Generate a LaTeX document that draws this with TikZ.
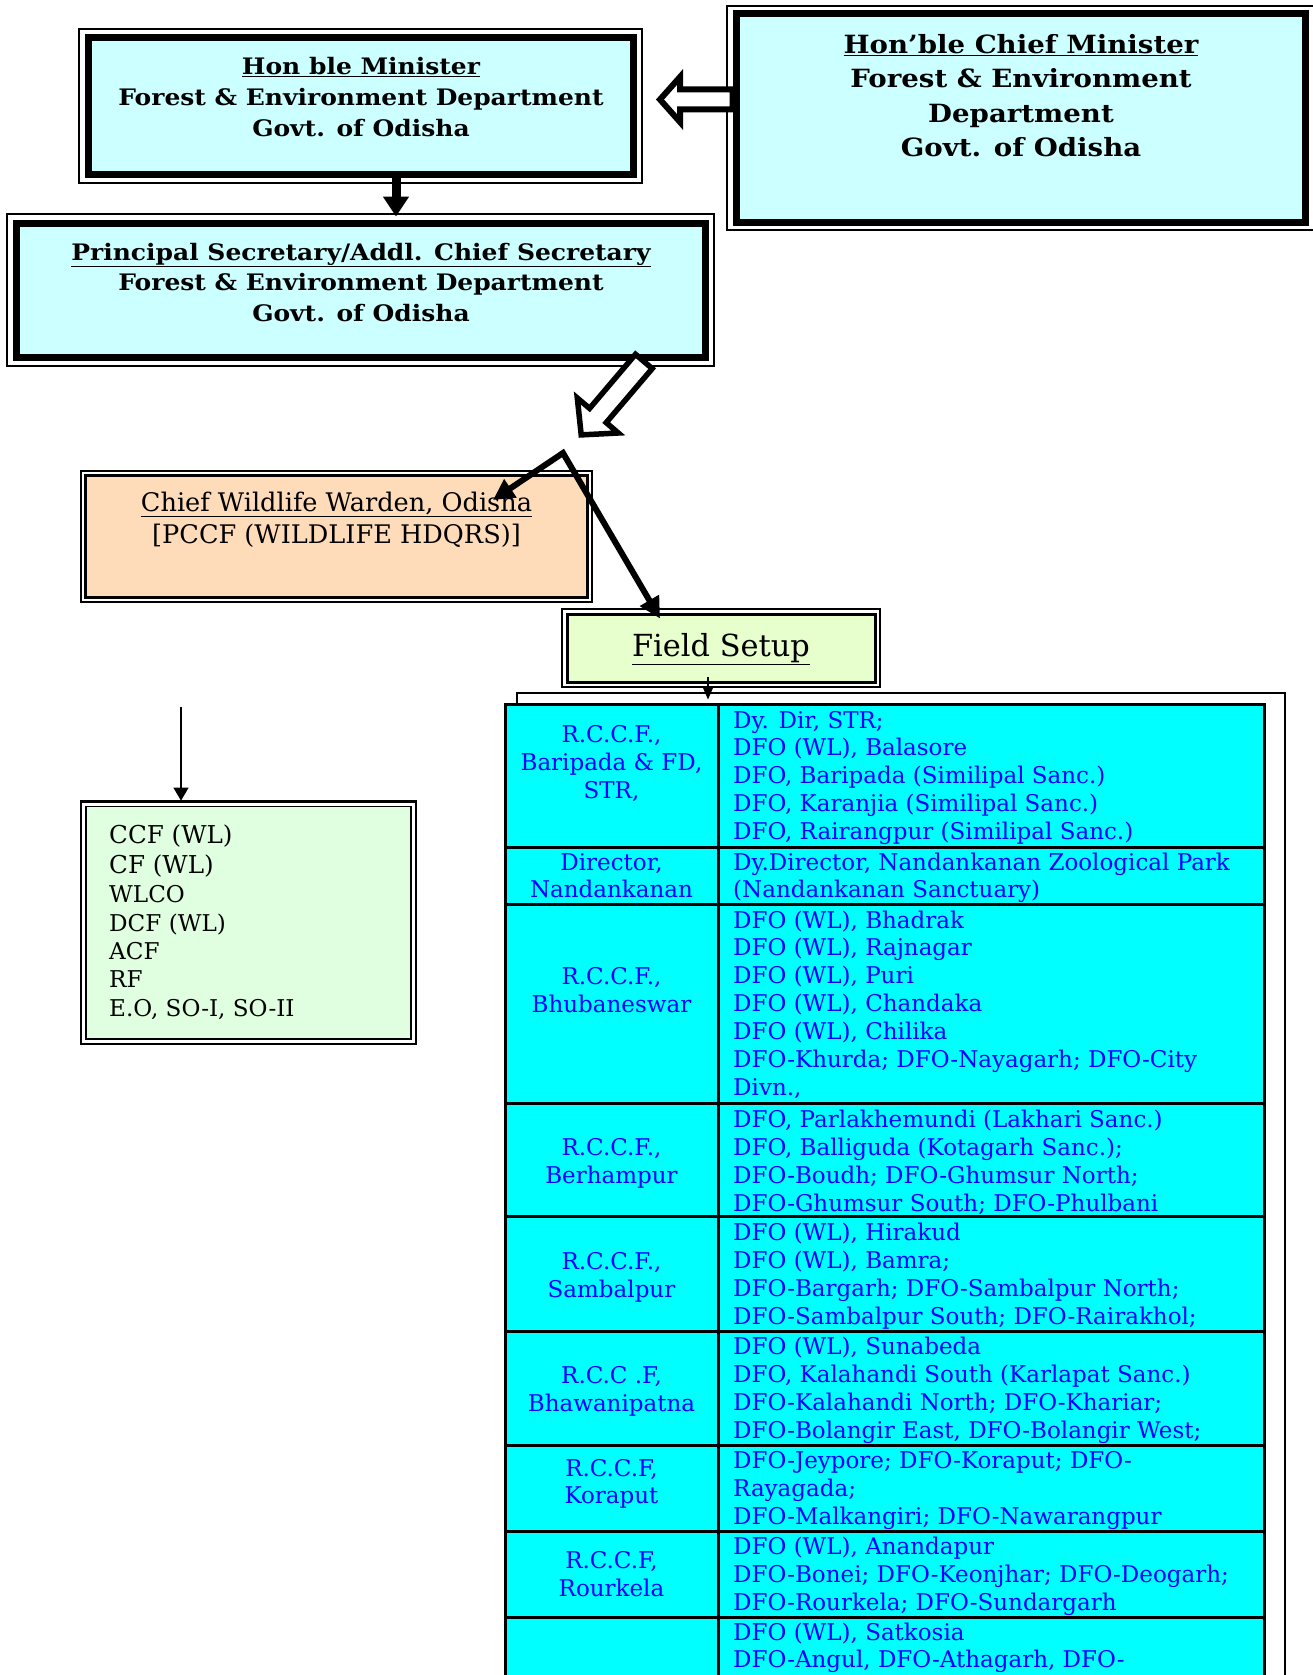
\documentclass[tikz,border=0pt]{standalone}
\usepackage{fontspec}
\setmainfont{DejaVu Serif}
\newfontfamily\bkbold[FakeStretch=1.1]{DejaVu Serif}
\usetikzlibrary{arrows.meta}
\definecolor{lcyan}{HTML}{CCFFFF}
\definecolor{peach}{HTML}{FFDCB9}
\definecolor{fsgreen}{HTML}{E6FFCC}
\definecolor{mint}{HTML}{E0FFE0}
\definecolor{tcyan}{HTML}{00FFFF}
\definecolor{tblue}{HTML}{0000FF}
\tikzset{
  thickframe/.style={draw, line width=7pt, fill=lcyan, inner sep=0pt},
  thinframe/.style={draw, line width=1.2pt},
  mintext/.style={anchor=base, inner sep=0pt, font={\bkbold\bfseries\fontsize{22.7pt}{31pt}\selectfont}},
  cmtext/.style={anchor=base, inner sep=0pt, font={\bkbold\bfseries\fontsize{25.1pt}{34pt}\selectfont}},
  hollow/.style={draw, line width=6pt, fill=white, line join=miter, miter limit=10},
  blkarrow/.style={draw, line width=6pt, line join=miter, miter limit=10},
  thinarrow/.style={draw, line width=1.3pt},
  cellR/.style={anchor=base west, inner sep=0pt, text=tblue, font={\fontsize{23pt}{28pt}\selectfont}},
  cellL/.style={anchor=base, inner sep=0pt, text=tblue, font={\fontsize{23pt}{28pt}\selectfont}},
  grntext/.style={anchor=base west, inner sep=0pt, font={\fontsize{23.1pt}{28pt}\selectfont}},
  grnbig/.style={anchor=base west, inner sep=0pt, font={\fontsize{24.6pt}{28pt}\selectfont}},
  tline/.style={line width=3pt}
}
\begin{document}
\begin{tikzpicture}[x=1pt,y=-1pt]
\useasboundingbox (0,0) rectangle (1312,1675);

% ---------- Chief Minister box
\draw[thinframe] (727,6) rectangle (1314,230);
\node[thickframe, minimum width=569pt, minimum height=208pt] (cm) at (1020.5,118) {};
\foreach \lbl [count=\i from 0] in {{\underline{Hon’ble Chief Minister}},{Forest \& Environment},{Department},{Govt. of Odisha}}
  \node[cmtext] (cmT\i) at (1021,{53.5+34.5*\i}) {\lbl};

% ---------- Minister box
\draw[thinframe] (79,29) rectangle (642,183);
\node[thickframe, minimum width=545pt, minimum height=136pt] (min) at (360.5,106) {};
\foreach \lbl [count=\i from 0] in {{\underline{Hon ble Minister}},{Forest \& Environment Department},{Govt. of Odisha}}
  \node[mintext] (minT\i) at (361,{74.5+31.2*\i}) {\lbl};

% ---------- Principal Secretary box
\draw[thinframe] (7,214) rectangle (714,366);
\node[thickframe, minimum width=689pt, minimum height=134pt] (ps) at (360.5,290) {};
\foreach \lbl [count=\i from 0] in {{\underline{Principal Secretary/Addl. Chief Secretary}},{Forest \& Environment Department},{Govt. of Odisha}}
  \node[mintext] (psT\i) at (361,{260+30.8*\i}) {\lbl};

% ---------- CM -> Minister hollow arrow
\draw[hollow] (660,99.5) -- (680,77) -- (680,89.5) -- (cm.west |- 0,89.5) -- (cm.west |- 0,109.5) -- (680,109.5) -- (680,122) -- cycle;

% ---------- Minister -> PS
\coordinate (mx) at (396,0);
\draw[line width=9pt, -{Triangle[length=20pt,width=25pt]}] (min.south -| mx) -- ([yshift=3pt]ps.north -| mx);

% ---------- PS diagonal hollow arrow
\draw[hollow, line width=5.5pt] (652.2,368.6) -- (606.2,422.6) -- (618.3,433.0) -- (581.2,434.9) -- (577.3,398.0) -- (589.6,408.4) -- (635.5,354.3) -- cycle;

% ---------- Chief Wildlife Warden box
\draw[line width=1.5pt] (81,471) rectangle (592,602);
\node[draw, line width=2.8pt, fill=peach, minimum width=502pt, minimum height=122pt, inner sep=0pt] (cww) at (336.5,536.5) {};
\node[anchor=base, inner sep=0pt, font={\fontsize{25.6pt}{31pt}\selectfont}] (cwwT0) at (336.5,511.5) {\underline{Chief Wildlife Warden, Odisha}};
\node[anchor=base, inner sep=0pt, font={\fontsize{25.6pt}{31pt}\selectfont}] (cwwT1) at (336.5,543) {[PCCF (WILDLIFE HDQRS)]};

% ---------- Field Setup box
\draw[line width=2pt] (562,609) rectangle (880,687);
\node[draw, line width=3pt, fill=fsgreen, minimum width=308pt, minimum height=68pt, inner sep=0pt] (fs) at (721,648) {};
\node[anchor=base, inner sep=0pt, font={\fontsize{30.4pt}{34pt}\selectfont}] (fsT) at (721,656.5) {\underline{Field Setup}};

% ---------- junction arrows
\coordinate (jn) at (563,453);
\coordinate (cwwin) at (493,500);
\coordinate (fsin) at (660,618.5);
\draw[blkarrow, {Triangle[length=21pt,width=21pt]}-{Triangle[length=21pt,width=21pt]}] (cwwin) -- (jn) -- (fsin);

% ---------- outer frame around table
\draw[line width=1.5pt] (517,1690) -- (517,693) -- (1285,693) -- (1285,1690);

% ---------- table
\node[draw, tline, fill=tcyan, minimum width=759pt, minimum height=986pt, inner sep=0pt] (tbl) at (884.5,1197) {};
\draw[tline] (718,704) -- (718,1690);
\foreach \y in {847,904,1103,1216,1331,1445,1531,1617}
  \draw[tline] (505,\y) -- (1264,\y);

% field setup -> table
\coordinate (tx) at (708,0);
\draw[thinarrow, -{Triangle[length=12pt,width=10pt]}] ([yshift=7pt]fs.south -| tx) -- ([yshift=3pt]tbl.north -| tx);

% right column
\foreach \lbl [count=\i from 0] in {{Dy. Dir, STR;},{DFO (WL), Balasore},{DFO, Baripada (Similipal Sanc.)},{DFO, Karanjia (Similipal Sanc.)},{DFO, Rairangpur (Similipal Sanc.)}}
  \node[cellR] (ra\i) at (733,{728+27.9*\i}) {\lbl};
\foreach \lbl [count=\i from 0] in {{Dy.Director, Nandankanan Zoological Park},{(Nandankanan Sanctuary)}}
  \node[cellR] (rb\i) at (733,{870+27.9*\i}) {\lbl};
\foreach \lbl [count=\i from 0] in {{DFO (WL), Bhadrak},{DFO (WL), Rajnagar},{DFO (WL), Puri},{DFO (WL), Chandaka},{DFO (WL), Chilika},{DFO-Khurda; DFO-Nayagarh; DFO-City},{Divn.,}}
  \node[cellR] (rc\i) at (733,{928+27.95*\i}) {\lbl};
\foreach \lbl [count=\i from 0] in {{DFO, Parlakhemundi (Lakhari Sanc.)},{DFO, Balliguda (Kotagarh Sanc.);},{DFO-Boudh; DFO-Ghumsur North;},{DFO-Ghumsur South; DFO-Phulbani}}
  \node[cellR] (rd\i) at (733,{1127.5+28.1*\i}) {\lbl};
\foreach \lbl [count=\i from 0] in {{DFO (WL), Hirakud},{DFO (WL), Bamra;},{DFO-Bargarh; DFO-Sambalpur North;},{DFO-Sambalpur South; DFO-Rairakhol;}}
  \node[cellR] (re\i) at (733,{1240.5+28.1*\i}) {\lbl};
\foreach \lbl [count=\i from 0] in {{DFO (WL), Sunabeda},{DFO, Kalahandi South (Karlapat Sanc.)},{DFO-Kalahandi North; DFO-Khariar;},{DFO-Bolangir East, DFO-Bolangir West;}}
  \node[cellR] (rf\i) at (733,{1354.5+28.1*\i}) {\lbl};
\foreach \lbl [count=\i from 0] in {{DFO-Jeypore; DFO-Koraput; DFO-},{Rayagada;},{DFO-Malkangiri; DFO-Nawarangpur}}
  \node[cellR] (rg\i) at (733,{1468+28.1*\i}) {\lbl};
\foreach \lbl [count=\i from 0] in {{DFO (WL), Anandapur},{DFO-Bonei; DFO-Keonjhar; DFO-Deogarh;},{DFO-Rourkela; DFO-Sundargarh}}
  \node[cellR] (rh\i) at (733,{1554.5+28.1*\i}) {\lbl};
\foreach \lbl [count=\i from 0] in {{DFO (WL), Satkosia},{DFO-Angul, DFO-Athagarh, DFO-}}
  \node[cellR] (ri\i) at (733,{1640+27.5*\i}) {\lbl};

% left column
\foreach \lbl [count=\i from 0] in {{R.C.C.F.,},{Baripada \& FD,},{STR,}}
  \node[cellL] (la\i) at (611.5,{742.7+27.8*\i}) {\lbl};
\foreach \lbl [count=\i from 0] in {{Director,},{Nandankanan}}
  \node[cellL] (lb\i) at (611.5,{870+27.5*\i}) {\lbl};
\node[cellL] (lc0) at (611.5,984) {R.C.C.F.,};
\node[cellL] (lc1) at (611.5,1012) {Bhubaneswar};
\node[cellL] (ld0) at (611.5,1155) {R.C.C.F.,};
\node[cellL] (ld1) at (611.5,1183.5) {Berhampur};
\node[cellL] (le0) at (611.5,1269) {R.C.C.F.,};
\node[cellL] (le1) at (611.5,1297) {Sambalpur};
\node[cellL] (lf0) at (611.5,1383) {R.C.C .F,};
\node[cellL] (lf1) at (611.5,1411) {Bhawanipatna};
\node[cellL] (lg0) at (611.5,1476) {R.C.C.F,};
\node[cellL] (lg1) at (611.5,1503.5) {Koraput};
\node[cellL] (lh0) at (611.5,1568.5) {R.C.C.F,};
\node[cellL] (lh1) at (611.5,1596) {Rourkela};

% ---------- left green box
\draw[line width=2.7pt] (81,801.5) rectangle (416,1044);
\node[draw, line width=1.7pt, fill=mint, minimum width=325pt, minimum height=232.5pt, inner sep=0pt] (grn) at (248.5,922.75) {};
\coordinate (gtop) at (181,707);
\draw[thinarrow, -{Triangle[length=13pt,width=15pt]}] (gtop) -- ([yshift=5pt]grn.north -| gtop);
\node[grnbig] (g0) at (109,843.3) {CCF (WL)};
\node[grnbig] (g1) at (109,873.3) {CF (WL)};
\node[grntext] (g2) at (109,902.7) {WLCO};
\node[grntext] (g3) at (109,931.7) {DCF (WL)};
\node[grntext] (g4) at (109,959.3) {ACF};
\node[grntext] (g5) at (109,987.7) {RF};
\node[grntext] (g6) at (109,1016) {E.O, SO-I, SO-II};
\end{tikzpicture}
\end{document}
